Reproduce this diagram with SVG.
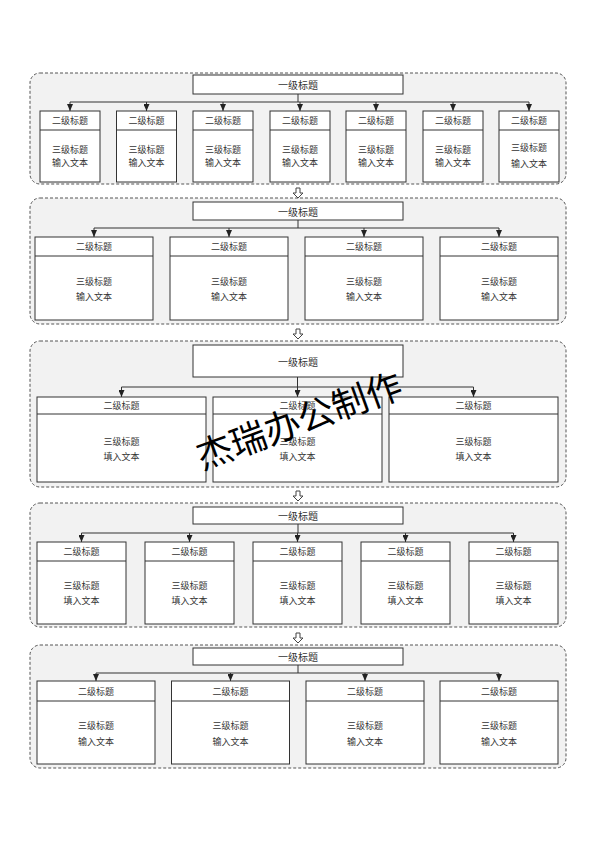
<svg xmlns="http://www.w3.org/2000/svg" width="594" height="841" viewBox="0 0 594 841">
<style>
.bg{fill:#f2f2f2;stroke:#555;stroke-width:1;stroke-dasharray:3 2}
.box{fill:#fff;stroke:#333;stroke-width:1}
.ln{fill:none;stroke:#333;stroke-width:1}
.ar{fill:none;stroke:#333;stroke-width:1;marker-end:url(#ar)}
.t{font-family:"Noto Sans CJK SC","Noto Sans",sans-serif;font-size:9px;fill:#333;text-anchor:middle;dominant-baseline:central}
.t1{font-size:10px}
.ha{fill:#fff;stroke:#444;stroke-width:1}
.wm{font-family:"Noto Sans CJK SC",sans-serif;font-size:36px;fill:#000;text-anchor:middle;dominant-baseline:central}
</style>
<defs>
<marker id="ar" viewBox="0 0 7 6" refX="7" refY="3" markerWidth="7" markerHeight="6" markerUnits="userSpaceOnUse" orient="auto">
<path d="M0,0 L7,3 L0,6 z" fill="#222"/>
</marker>
</defs>
<rect width="594" height="841" fill="#fff"/>
<g id="containers">
<rect class="bg" x="30" y="73" width="536" height="111" rx="10"/>
<rect class="bg" x="30" y="198" width="536" height="126" rx="10"/>
<rect class="bg" x="30" y="341" width="536" height="146" rx="10"/>
<rect class="bg" x="30" y="503" width="536" height="124" rx="10"/>
<rect class="bg" x="30" y="645" width="536" height="123" rx="10"/>
</g>
<g id="connectors">
<path class="ln" d="M298,94 V102 M70,102 H529"/>
<line class="ar" x1="70" y1="102" x2="70" y2="111"/>
<line class="ar" x1="146.5" y1="102" x2="146.5" y2="111"/>
<line class="ar" x1="223" y1="102" x2="223" y2="111"/>
<line class="ar" x1="300" y1="102" x2="300" y2="111"/>
<line class="ar" x1="376" y1="102" x2="376" y2="111"/>
<line class="ar" x1="453" y1="102" x2="453" y2="111"/>
<line class="ar" x1="529" y1="102" x2="529" y2="111"/>

<path class="ln" d="M298,220 V228 M94,228 H499"/>
<line class="ar" x1="94" y1="228" x2="94" y2="237"/>
<line class="ar" x1="229" y1="228" x2="229" y2="237"/>
<line class="ar" x1="364" y1="228" x2="364" y2="237"/>
<line class="ar" x1="499" y1="228" x2="499" y2="237"/>

<path class="ln" d="M121.5,387 H473.5"/>
<line class="ar" x1="297.5" y1="377" x2="297.5" y2="397"/>
<line class="ar" x1="121.5" y1="387" x2="121.5" y2="397"/>
<line class="ar" x1="473.5" y1="387" x2="473.5" y2="397"/>

<path class="ln" d="M298,524 V533 M81.5,533 H513.5"/>
<line class="ar" x1="81.5" y1="533" x2="81.5" y2="542"/>
<line class="ar" x1="189.5" y1="533" x2="189.5" y2="542"/>
<line class="ar" x1="297.5" y1="533" x2="297.5" y2="542"/>
<line class="ar" x1="405.5" y1="533" x2="405.5" y2="542"/>
<line class="ar" x1="513.5" y1="533" x2="513.5" y2="542"/>

<path class="ln" d="M298,665 V673 M96,673 H499"/>
<line class="ar" x1="96" y1="673" x2="96" y2="681"/>
<line class="ar" x1="230.5" y1="673" x2="230.5" y2="681"/>
<line class="ar" x1="365" y1="673" x2="365" y2="681"/>
<line class="ar" x1="499" y1="673" x2="499" y2="681"/>

<polygon class="ha" points="296,188 300,188 300,193 303,193 298,198 293,193 296,193"/>
<polygon class="ha" points="296,329 300,329 300,334 303,334 298,339 293,334 296,334"/>
<polygon class="ha" points="296,491 300,491 300,496 303,496 298,501 293,496 296,496"/>
<polygon class="ha" points="296,633 300,633 300,638 303,638 298,643 293,638 296,638"/>
</g>
<g id="s1-top"><rect class="box" x="193" y="75" width="210" height="19"/><text class="t t1" x="298" y="84.5">一级标题</text></g>
<g id="s1-n1"><rect class="box" x="40" y="111" width="60" height="71"/><line class="ln" x1="40" y1="130" x2="100" y2="130"/><text class="t" x="70" y="120.5">二级标题</text><text class="t" x="70" y="149">三级标题</text><text class="t" x="70" y="162">输入文本</text></g>
<g id="s1-n2"><rect class="box" x="116.5" y="111" width="60" height="71"/><line class="ln" x1="116.5" y1="130" x2="176.5" y2="130"/><text class="t" x="146.5" y="120.5">二级标题</text><text class="t" x="146.5" y="149">三级标题</text><text class="t" x="146.5" y="162">输入文本</text></g>
<g id="s1-n3"><rect class="box" x="193" y="111" width="60" height="71"/><line class="ln" x1="193" y1="130" x2="253" y2="130"/><text class="t" x="223" y="120.5">二级标题</text><text class="t" x="223" y="149">三级标题</text><text class="t" x="223" y="162">输入文本</text></g>
<g id="s1-n4"><rect class="box" x="270" y="111" width="60" height="71"/><line class="ln" x1="270" y1="130" x2="330" y2="130"/><text class="t" x="300" y="120.5">二级标题</text><text class="t" x="300" y="149">三级标题</text><text class="t" x="300" y="162">输入文本</text></g>
<g id="s1-n5"><rect class="box" x="346" y="111" width="60" height="71"/><line class="ln" x1="346" y1="130" x2="406" y2="130"/><text class="t" x="376" y="120.5">二级标题</text><text class="t" x="376" y="149">三级标题</text><text class="t" x="376" y="162">输入文本</text></g>
<g id="s1-n6"><rect class="box" x="423" y="111" width="60" height="71"/><line class="ln" x1="423" y1="130" x2="483" y2="130"/><text class="t" x="453" y="120.5">二级标题</text><text class="t" x="453" y="149">三级标题</text><text class="t" x="453" y="162">输入文本</text></g>
<g id="s1-n7"><rect class="box" x="499" y="111" width="60" height="71"/><line class="ln" x1="499" y1="130" x2="559" y2="130"/><text class="t" x="529" y="120.5">二级标题</text><text class="t" x="529" y="147">三级标题</text><text class="t" x="529" y="163">输入文本</text></g>

<g id="s2-top"><rect class="box" x="193" y="202" width="210" height="18"/><text class="t t1" x="298" y="211">一级标题</text></g>
<g id="s2-n1"><rect class="box" x="35" y="237" width="118" height="83"/><line class="ln" x1="35" y1="256" x2="153" y2="256"/><text class="t" x="94" y="246.5">二级标题</text><text class="t" x="94" y="281">三级标题</text><text class="t" x="94" y="296">输入文本</text></g>
<g id="s2-n2"><rect class="box" x="170" y="237" width="118" height="83"/><line class="ln" x1="170" y1="256" x2="288" y2="256"/><text class="t" x="229" y="246.5">二级标题</text><text class="t" x="229" y="281">三级标题</text><text class="t" x="229" y="296">输入文本</text></g>
<g id="s2-n3"><rect class="box" x="305" y="237" width="118" height="83"/><line class="ln" x1="305" y1="256" x2="423" y2="256"/><text class="t" x="364" y="246.5">二级标题</text><text class="t" x="364" y="281">三级标题</text><text class="t" x="364" y="296">输入文本</text></g>
<g id="s2-n4"><rect class="box" x="440" y="237" width="118" height="83"/><line class="ln" x1="440" y1="256" x2="558" y2="256"/><text class="t" x="499" y="246.5">二级标题</text><text class="t" x="499" y="281">三级标题</text><text class="t" x="499" y="296">输入文本</text></g>

<g id="s3-top"><rect class="box" x="193" y="345" width="210" height="32"/><text class="t t1" x="298" y="361">一级标题</text></g>
<g id="s3-n1"><rect class="box" x="37" y="397" width="169" height="85"/><line class="ln" x1="37" y1="414" x2="206" y2="414"/><text class="t" x="121.5" y="405.5">二级标题</text><text class="t" x="121.5" y="441">三级标题</text><text class="t" x="121.5" y="456">填入文本</text></g>
<g id="s3-n2"><rect class="box" x="213" y="397" width="169" height="85"/><line class="ln" x1="213" y1="414" x2="382" y2="414"/><text class="t" x="297.5" y="405.5">二级标题</text><text class="t" x="297.5" y="441">三级标题</text><text class="t" x="297.5" y="456">填入文本</text></g>
<g id="s3-n3"><rect class="box" x="389" y="397" width="169" height="85"/><line class="ln" x1="389" y1="414" x2="558" y2="414"/><text class="t" x="473.5" y="405.5">二级标题</text><text class="t" x="473.5" y="441">三级标题</text><text class="t" x="473.5" y="456">填入文本</text></g>

<g id="s4-top"><rect class="box" x="193" y="507" width="210" height="17"/><text class="t t1" x="298" y="515.5">一级标题</text></g>
<g id="s4-n1"><rect class="box" x="37" y="542" width="89" height="82"/><line class="ln" x1="37" y1="561" x2="126" y2="561"/><text class="t" x="81.5" y="551.5">二级标题</text><text class="t" x="81.5" y="585">三级标题</text><text class="t" x="81.5" y="600">填入文本</text></g>
<g id="s4-n2"><rect class="box" x="145" y="542" width="89" height="82"/><line class="ln" x1="145" y1="561" x2="234" y2="561"/><text class="t" x="189.5" y="551.5">二级标题</text><text class="t" x="189.5" y="585">三级标题</text><text class="t" x="189.5" y="600">填入文本</text></g>
<g id="s4-n3"><rect class="box" x="253" y="542" width="89" height="82"/><line class="ln" x1="253" y1="561" x2="342" y2="561"/><text class="t" x="297.5" y="551.5">二级标题</text><text class="t" x="297.5" y="585">三级标题</text><text class="t" x="297.5" y="600">填入文本</text></g>
<g id="s4-n4"><rect class="box" x="361" y="542" width="89" height="82"/><line class="ln" x1="361" y1="561" x2="450" y2="561"/><text class="t" x="405.5" y="551.5">二级标题</text><text class="t" x="405.5" y="585">三级标题</text><text class="t" x="405.5" y="600">填入文本</text></g>
<g id="s4-n5"><rect class="box" x="469" y="542" width="89" height="82"/><line class="ln" x1="469" y1="561" x2="558" y2="561"/><text class="t" x="513.5" y="551.5">二级标题</text><text class="t" x="513.5" y="585">三级标题</text><text class="t" x="513.5" y="600">填入文本</text></g>

<g id="s5-top"><rect class="box" x="193" y="648" width="210" height="17"/><text class="t t1" x="298" y="656.5">一级标题</text></g>
<g id="s5-n1"><rect class="box" x="37" y="681" width="118" height="83"/><line class="ln" x1="37" y1="701" x2="155" y2="701"/><text class="t" x="96" y="691">二级标题</text><text class="t" x="96" y="725">三级标题</text><text class="t" x="96" y="741">输入文本</text></g>
<g id="s5-n2"><rect class="box" x="171.5" y="681" width="118" height="83"/><line class="ln" x1="171.5" y1="701" x2="289.5" y2="701"/><text class="t" x="230.5" y="691">二级标题</text><text class="t" x="230.5" y="725">三级标题</text><text class="t" x="230.5" y="741">输入文本</text></g>
<g id="s5-n3"><rect class="box" x="306" y="681" width="118" height="83"/><line class="ln" x1="306" y1="701" x2="424" y2="701"/><text class="t" x="365" y="691">二级标题</text><text class="t" x="365" y="725">三级标题</text><text class="t" x="365" y="741">输入文本</text></g>
<g id="s5-n4"><rect class="box" x="440" y="681" width="118" height="83"/><line class="ln" x1="440" y1="701" x2="558" y2="701"/><text class="t" x="499" y="691">二级标题</text><text class="t" x="499" y="725">三级标题</text><text class="t" x="499" y="741">输入文本</text></g>

<g id="watermark"><text class="wm" transform="translate(298,418) rotate(-20)">杰瑞办公制作</text></g>
</svg>
